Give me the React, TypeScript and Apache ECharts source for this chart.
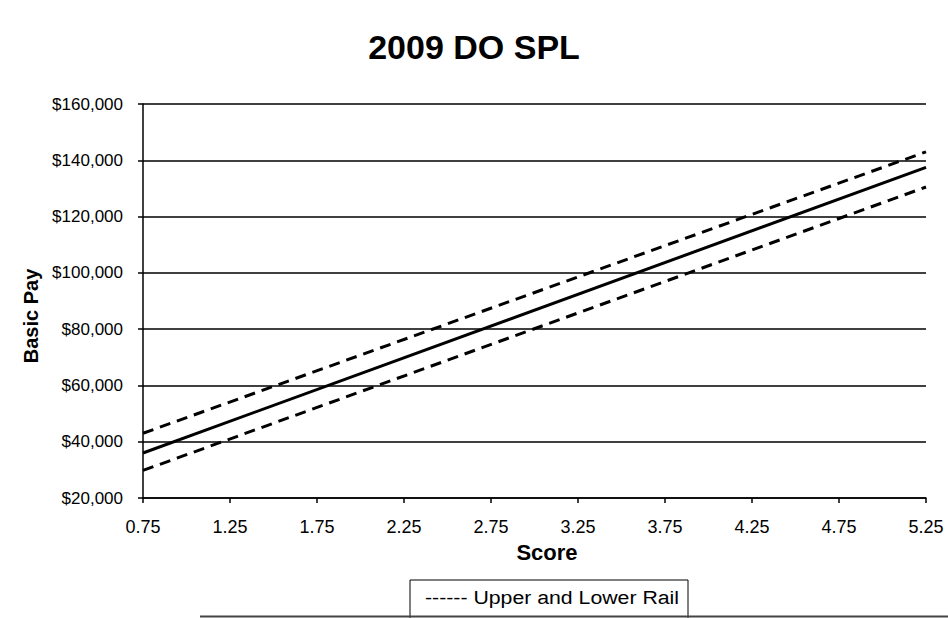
import React, { useEffect, useRef } from "react";
import * as echarts from "echarts";

const titleText = "2009 DO SPL";
const xAxisTitle = "Score";
const yAxisTitle = "Basic Pay";
const legendLabel = "------ Upper and Lower Rail";

const scoreTicks = [0.75, 1.25, 1.75, 2.25, 2.75, 3.25, 3.75, 4.25, 4.75, 5.25];
const payTicks = [20000, 40000, 60000, 80000, 100000, 120000, 140000, 160000];

const scores = [0.75, 5.25];
const splValues = [36000, 137500];
const upperRail = [43000, 143000];
const lowerRail = [29800, 130500];

const FONT = "'Liberation Sans', Arial, Helvetica, sans-serif";

const fmtMoney = (v: number) =>
  "$" + Math.round(v).toString().replace(/\B(?=(\d{3})+(?!\d))/g, ",");

export default function App() {
  const ref = useRef<HTMLDivElement>(null);

  useEffect(() => {
    if (!ref.current) return;
    const chart = echarts.init(ref.current, undefined, { renderer: "svg" });
    const pairs = (ys: number[]) => scores.map((s, i) => [s, ys[i]]);
    chart.setOption({
      animation: false,
      backgroundColor: "#ffffff",
      title: {
        text: titleText,
        left: "center",
        top: 25,
        textStyle: { fontFamily: FONT, fontSize: 34, fontWeight: "bold", color: "#000" },
      },
      grid: { left: 143, right: 22, top: 104, bottom: 120, containLabel: false },
      xAxis: {
        type: "value",
        min: scoreTicks[0],
        max: scoreTicks[scoreTicks.length - 1],
        interval: 0.5,
        axisLine: { show: true, lineStyle: { color: "#000", width: 1.5 } },
        axisTick: { show: true, length: 5, lineStyle: { color: "#000", width: 1.5 } },
        axisLabel: {
          margin: 20,
          fontFamily: FONT,
          fontSize: 18,
          color: "#000",
          formatter: (v: number) => v.toFixed(2),
        },
        splitLine: { show: false },
      },
      yAxis: {
        type: "value",
        min: payTicks[0],
        max: payTicks[payTicks.length - 1],
        interval: 20000,
        axisLine: { show: true, lineStyle: { color: "#000", width: 1.5 } },
        axisTick: { show: true, length: 5, lineStyle: { color: "#000", width: 1.5 } },
        axisLabel: {
          margin: 20,
          fontFamily: FONT,
          fontSize: 17,
          color: "#000",
          formatter: (v: number) => fmtMoney(v),
        },
        splitLine: { show: true, lineStyle: { color: "#000", width: 1.5 } },
      },
      series: [
        {
          name: "SPL",
          type: "line",
          data: pairs(splValues),
          symbol: "none",
          lineStyle: { color: "#000", width: 3, type: "solid" },
        },
        {
          name: "Upper Rail",
          type: "line",
          data: pairs(upperRail),
          symbol: "none",
          lineStyle: { color: "#000", width: 3, type: [11, 7] },
        },
        {
          name: "Lower Rail",
          type: "line",
          data: pairs(lowerRail),
          symbol: "none",
          lineStyle: { color: "#000", width: 3, type: [11, 7] },
        },
      ],
      graphic: [
        {
          type: "text",
          x: 547,
          y: 552,
          style: {
            text: xAxisTitle,
            fontFamily: FONT,
            fontSize: 22,
            fontWeight: "bold",
            fill: "#000",
            align: "center",
            verticalAlign: "middle",
          },
        },
        {
          type: "text",
          x: 31,
          y: 316,
          rotation: Math.PI / 2,
          style: {
            text: yAxisTitle,
            fontFamily: FONT,
            fontSize: 20,
            fontWeight: "bold",
            fill: "#000",
            align: "center",
            verticalAlign: "middle",
          },
        },
        {
          type: "rect",
          shape: { x: 410, y: 580, width: 278, height: 50 },
          style: { fill: "#fff", stroke: "#000", lineWidth: 1 },
        },
        {
          type: "text",
          x: 425,
          y: 597,
          scaleX: 1.12,
          style: {
            text: legendLabel,
            fontFamily: FONT,
            fontSize: 19,
            fill: "#000",
            align: "left",
            verticalAlign: "middle",
          },
        },
        {
          type: "line",
          shape: { x1: 200, y1: 616.5, x2: 948, y2: 616.5 },
          style: { stroke: "#444", lineWidth: 2 },
        },
      ],
    });
    return () => chart.dispose();
  }, []);

  return <div ref={ref} style={{ width: 948, height: 618, position: "absolute", left: 0, top: 0 }} />;
}
